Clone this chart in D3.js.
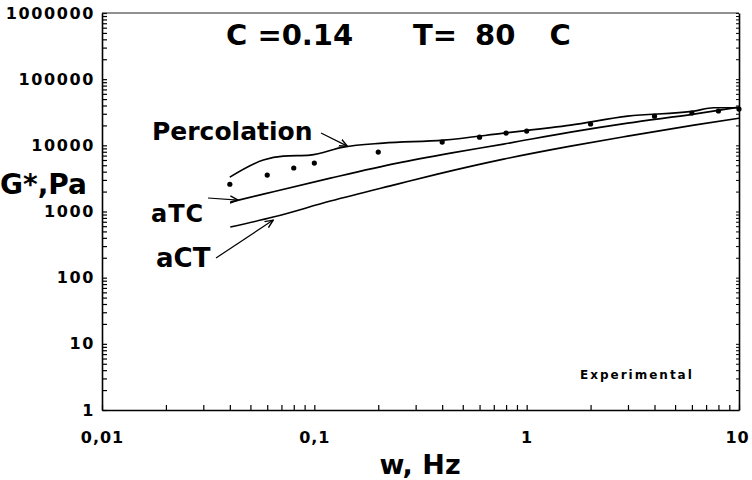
<!DOCTYPE html>
<html>
<head>
<meta charset="utf-8">
<script src="https://cdn.jsdelivr.net/npm/d3@7"></script>
<style>
  body { margin: 0; background: #fff; }
  svg { display: block; }
  text { font-family: "DejaVu Sans", sans-serif; font-weight: bold; fill: #000; }
</style>
</head>
<body>
<div id="chart"></div>
<script>
var width = 752;
var height = 480;

// experimental points
var dotFreq = [0.04, 0.06, 0.08, 0.1, 0.2, 0.4, 0.6, 0.8, 1, 2, 4, 6, 8, 10];
var dotG    = [2580, 3550, 4540, 5400, 7900, 11200, 13300, 15300, 16400, 21000, 27600, 30800, 33000, 35300];

// model curves
var percFreq = [0.04, 0.0575, 0.0715, 0.0955, 0.137, 0.211, 0.405, 0.78, 1.61, 2.99, 6.13, 7.6, 10];
var percG    = [3300, 5980, 6870, 7110, 9400, 10800, 12000, 15300, 20200, 27600, 32900, 37000, 37000];

var atcFreq = [0.0402, 0.0575, 0.119, 0.246, 0.438, 0.779, 1.61, 2.99, 6.13, 10];
var atcG    = [1387, 1832, 3197, 5385, 7620, 10420, 15820, 21640, 29600, 37750];

var actFreq = [0.0402, 0.064, 0.119, 0.246, 0.38, 0.779, 1.61, 2.99, 6.13, 10];
var actG    = [581, 823, 1436, 2594, 3673, 6190, 9730, 13770, 20200, 25750];

// axis ticks
var xMajor = [0.01, 0.1, 1, 10];
var xLabels = ["0,01", "0,1", "1", "10"];
var yMajor = [1, 10, 100, 1000, 10000, 100000, 1000000];
var yLabels = ["1", "10", "100", "1000", "10000", "100000", "1000000"];

var pLeft = 102, pRight = 739, pTop = 13, pBottom = 410;

var x = d3.scaleLog().domain([0.01, 10]).range([pLeft, pRight]);
var y = d3.scaleLog().domain([1, 1000000]).range([pBottom, pTop]);

var svg = d3.select("#chart").append("svg")
    .attr("width", width)
    .attr("height", height);

svg.append("defs").append("marker")
    .attr("id", "arr")
    .attr("viewBox", "0 0 10 10")
    .attr("refX", 9).attr("refY", 5)
    .attr("markerWidth", 9).attr("markerHeight", 9)
    .attr("markerUnits", "userSpaceOnUse")
    .attr("orient", "auto")
  .append("path")
    .attr("d", "M0,1 L9,5 L0,9")
    .attr("fill", "none")
    .attr("stroke", "#000")
    .attr("stroke-width", 1.6);

// minor ticks 2..9 in every decade
function minors(maj) {
  var out = [];
  for (var i = 0; i < maj.length - 1; i++)
    for (var k = 1; k < 10; k++) out.push(maj[i] * k);
  out.push(maj[maj.length - 1]);
  return out;
}

// x axis - ticks inside
var xAxis = svg.append("g")
    .attr("transform", "translate(0," + pBottom + ")")
    .call(d3.axisBottom(x).tickValues(minors(xMajor)).tickSizeInner(-5).tickSizeOuter(0)
      .tickFormat(function(d) { var i = xMajor.indexOf(d); return i >= 0 ? xLabels[i] : ""; }));
xAxis.select(".domain").attr("stroke-width", 1.6);
xAxis.selectAll(".tick line").attr("stroke-width", 1.2);
xAxis.selectAll(".tick text")
    .attr("y", 22)
    .style("font-size", "16px")
    .style("letter-spacing", "1px")
    .style("font-family", "DejaVu Sans")
    .style("font-weight", "bold");
xAxis.selectAll(".tick:last-of-type text").attr("dx", "-2");

// y axis - ticks inside
var yAxis = svg.append("g")
    .attr("transform", "translate(" + pLeft + ",0)")
    .call(d3.axisLeft(y).tickValues(minors(yMajor)).tickSizeInner(-5).tickSizeOuter(0)
      .tickFormat(function(d) { var i = yMajor.indexOf(d); return i >= 0 ? yLabels[i] : ""; }));
yAxis.select(".domain").attr("stroke-width", 1.6);
yAxis.selectAll(".tick line").attr("stroke-width", 1.2);
yAxis.selectAll(".tick text")
    .attr("x", -7)
    .style("font-size", "16px")
    .style("letter-spacing", "1.6px")
    .style("font-family", "DejaVu Sans")
    .style("font-weight", "bold");

// right frame with small ticks
var rAxis = svg.append("g")
    .attr("transform", "translate(" + pRight + ",0)")
    .call(d3.axisRight(y).tickValues(minors(yMajor)).tickSizeInner(-3).tickSizeOuter(0).tickFormat(""));
rAxis.select(".domain").attr("stroke-width", 1.6);

// top frame
svg.append("line")
    .attr("x1", pLeft).attr("x2", pRight)
    .attr("y1", pTop).attr("y2", pTop)
    .attr("stroke", "#222").attr("stroke-width", 1);

// curves
var line = d3.line()
    .x(function(d) { return x(d[0]); })
    .y(function(d) { return y(d[1]); })
    .curve(d3.curveMonotoneX);

var curves = [d3.zip(percFreq, percG), d3.zip(atcFreq, atcG), d3.zip(actFreq, actG)];
svg.selectAll("path.curve")
    .data(curves)
  .enter().append("path")
    .attr("class", "curve")
    .attr("d", line)
    .attr("fill", "none")
    .attr("stroke", "#000")
    .attr("stroke-width", 1.6);

// points
svg.selectAll("circle.pt")
    .data(d3.zip(dotFreq, dotG))
  .enter().append("circle")
    .attr("class", "pt")
    .attr("cx", function(d) { return x(d[0]); })
    .attr("cy", function(d) { return y(d[1]); })
    .attr("r", 2.6)
    .attr("fill", "#000");

// annotations
function arrow(x1, y1, f, g) {
  svg.append("line")
      .attr("x1", x1).attr("y1", y1)
      .attr("x2", x(f)).attr("y2", y(g))
      .attr("stroke", "#000").attr("stroke-width", 1.2)
      .attr("marker-end", "url(#arr)");
}

svg.append("text").attr("x", 152).attr("y", 140).style("font-size", "25px").text("Percolation");
arrow(321, 133, 0.143, 9730);

svg.append("text").attr("x", 151).attr("y", 222).style("font-size", "24px").style("letter-spacing", "1px").text("aTC");
arrow(208, 198, 0.0438, 1487);

svg.append("text").attr("x", 156).attr("y", 267).style("font-size", "26px").text("aCT");
arrow(216, 258, 0.064, 741);

svg.append("text").attr("x", 580).attr("y", 379)
    .style("font-size", "12px").style("letter-spacing", "2px").text("Experimental");

// titles
svg.append("text").attr("x", 226).attr("y", 45).style("font-size", "29px").text("C =0.14");
var tt = svg.append("text").attr("x", 413).attr("y", 45).style("font-size", "29px");
tt.append("tspan").text("T=");
tt.append("tspan").attr("dx", 18).text("80");
tt.append("tspan").attr("dx", 34).text("C");

svg.append("text").attr("x", 0).attr("y", 194).style("font-size", "28px").text("G*,Pa");

svg.append("text").attr("x", 420).attr("y", 474).attr("text-anchor", "middle")
    .style("font-size", "27px").style("white-space", "pre").text("w, Hz");
</script>
</body>
</html>
